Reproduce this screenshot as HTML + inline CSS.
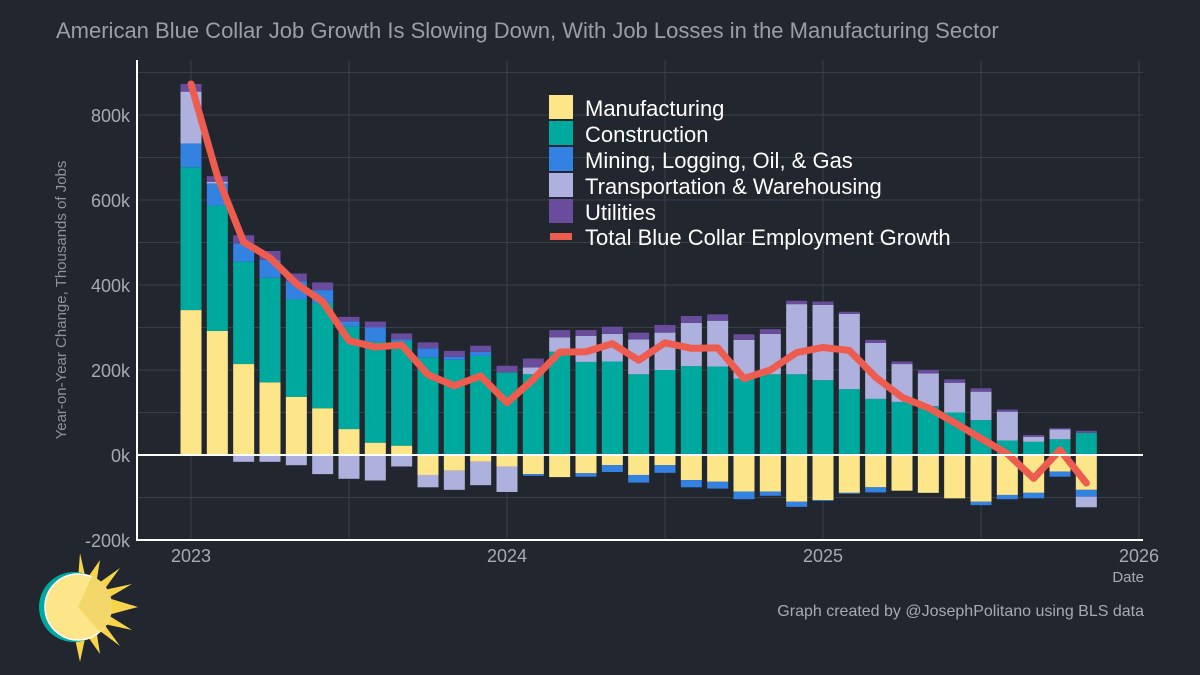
<!DOCTYPE html>
<html><head><meta charset="utf-8"><style>
body{margin:0;background:#22262e;}
svg{display:block;font-family:"Liberation Sans",Arial,sans-serif;}
</style></head><body>
<svg id="chart" width="1200" height="675" viewBox="0 0 1200 675">
<rect width="1200" height="675" fill="#22262e"/>
<text x="56" y="38" font-size="22" fill="#9a9ea6">American Blue Collar Job Growth Is Slowing Down, With Job Losses in the Manufacturing Sector</text>
<g id="grid"></g>
<g id="bars"></g>
<g id="line"></g>
<g id="axes"></g>
<text transform="translate(66,300) rotate(-90)" text-anchor="middle" font-size="15" fill="#8e929a">Year-on-Year Change, Thousands of Jobs</text>
<text x="1144" y="582" text-anchor="end" font-size="15" fill="#a6aab2">Date</text>
<text x="1144" y="616" text-anchor="end" font-size="16" fill="#a6aab2">Graph created by @JosephPolitano using BLS data</text>
<g>
<g><rect x="549" y="95" width="24" height="24" fill="#fde68a"/><text x="585" y="116" font-size="22" fill="#fff">Manufacturing</text></g>
<g><rect x="549" y="121" width="24" height="24" fill="#00a99d"/><text x="585" y="142" font-size="22" fill="#fff">Construction</text></g>
<g><rect x="549" y="147" width="24" height="24" fill="#3381e0"/><text x="585" y="168" font-size="22" fill="#fff">Mining, Logging, Oil, &amp; Gas</text></g>
<g><rect x="549" y="173" width="24" height="24" fill="#aeb0dd"/><text x="585" y="194" font-size="22" fill="#fff">Transportation &amp; Warehousing</text></g>
<g><rect x="549" y="199" width="24" height="24" fill="#6a4c9c"/><text x="585" y="220" font-size="22" fill="#fff">Utilities</text></g>
<g><rect x="550" y="233" width="22" height="7" fill="#ee5c4f"/><text x="585" y="245" font-size="22" fill="#fff">Total Blue Collar Employment Growth</text></g>
</g>
<g>
<polygon points="80,553 86,580 100,560 96,585 120,568 104,590 132,584 108,598 138,607 108,615 132,630 104,624 120,646 96,628 100,654 86,634 80,662 74,634" fill="#f6d54a"/>
<circle cx="74" cy="607" r="35" fill="#00a99d"/>
<circle cx="78" cy="607" r="33" fill="#fde68a" stroke="#fff" stroke-width="1.5"/>
<path d="M78,607 L92,576 A33,33 0 0 1 100,632 Z" fill="#f3d76a"/>
</g>
</svg>
<script>
const months = 35;
const manufacturing = [341,292,214,171,137,110,61,29,22,-47,-37,-16,-27,-45,-52,-43,-24,-47,-24,-59,-63,-86,-86,-110,-106,-89,-76,-84,-89,-102,-110,-94,-89,-39,-82];
const construction = [336,295,241,246,229,248,241,238,245,229,224,233,194,190,243,219,220,190,200,209,208,180,190,190,176,155,132,125,115,100,82,34,31,37,52];
const mining = [56,52,43,42,43,30,12,33,5,22,7,10,0,-4,0,-8,-16,-18,-18,-17,-16,-18,-10,-12,-2,-2,-12,0,0,0,-8,-10,-13,-12,-16];
const transport = [122,4,-16,-16,-24,-45,-56,-60,-27,-29,-45,-55,-60,16,34,61,65,82,88,102,108,91,95,165,177,177,132,89,77,70,67,68,12,23,-25];
const utilities = [18,13,19,21,18,18,11,14,14,14,14,14,16,21,17,14,17,16,18,16,15,13,11,8,8,5,7,6,8,8,8,5,4,3,5];
const yTicks = [-200,0,200,400,600,800];
const yTickLabels = ["-200k","0k","200k","400k","600k","800k"];
const xTicks = [2023,2024,2025,2026];

const NS="http://www.w3.org/2000/svg";
function y(v){return 455 - v*0.425;}
function x(i){return 191 + i*316/12;}
function xYear(yr){return 191 + (yr-2023)*316;}
function mk(tag,attrs,parent){const e=document.createElementNS(NS,tag);for(const k in attrs)e.setAttribute(k,attrs[k]);parent.appendChild(e);return e;}
const grid=document.getElementById('grid'),bars=document.getElementById('bars'),lineG=document.getElementById('line'),axes=document.getElementById('axes');
for(let v=-200;v<=900;v+=100){
  const g=mk('line',{x1:137,x2:1143,y1:y(v),y2:y(v),stroke:'#3a3e47','stroke-width':1},grid);
  
  
}
for(let t=2023;t<=2026;t+=0.5){
  const g=mk('line',{x1:xYear(t),x2:xYear(t),y1:60,y2:540,stroke:'#3a3e47','stroke-width':1},grid);
  
  
}
const series=[[manufacturing,'#fde68a','manufacturing'],[construction,'#00a99d','construction'],[mining,'#3381e0','mining'],[transport,'#aeb0dd','transport'],[utilities,'#6a4c9c','utilities']];
const totals=[];
for(let i=0;i<months;i++){
  let pos=0,neg=0;
  for(const [arr,col,nm] of series){
    const v=arr[i];if(!v)continue;
    let a,b;
    if(v>0){a=pos;b=pos+v;pos=b;}else{a=neg;b=neg+v;neg=b;}
    const r=mk('rect',{x:x(i)-10.5,width:21,y:Math.min(y(a),y(b)),height:Math.abs(y(a)-y(b)),fill:col},bars);
    
    
  }
  totals.push(pos+neg);
}
const p=mk('polyline',{points:totals.map((v,i)=>x(i)+','+y(v)).join(' '),fill:'none',stroke:'#ee5c4f','stroke-width':7,'stroke-linejoin':'round','stroke-linecap':'round'},lineG);


const z=mk('line',{x1:137,x2:1143,y1:y(0),y2:y(0),stroke:'#fff','stroke-width':2},axes);


const la=mk('polyline',{points:'137,60 137,540 1143,540',fill:'none',stroke:'#fff','stroke-width':2},axes);


yTicks.forEach((v,k)=>{
  const t=mk('text',{x:130,y:y(v)+7,'text-anchor':'end','font-size':18,fill:'#a6aab2'},axes);t.textContent=yTickLabels[k];
  
  
});
xTicks.forEach(v=>{
  const t=mk('text',{x:xYear(v),y:562,'text-anchor':'middle','font-size':18,fill:'#a6aab2'},axes);t.textContent=v;
  
  
});
</script>
</body></html>
